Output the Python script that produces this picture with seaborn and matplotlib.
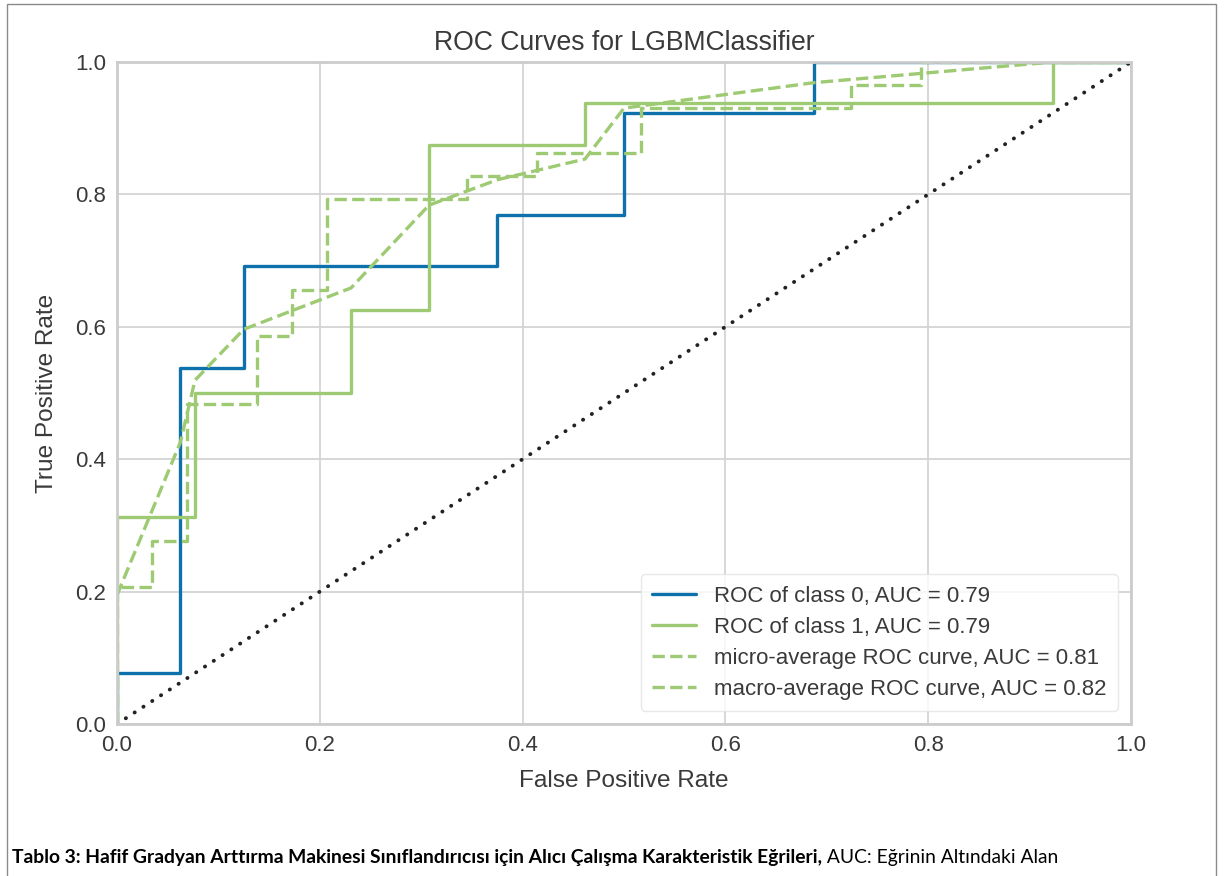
import matplotlib
matplotlib.use("Agg")
import matplotlib.pyplot as plt
import matplotlib.patches as mpatches
import seaborn as sns
import pandas as pd

# ---- data ----
fpr_class0 = [0, 0, 0.0625, 0.0625, 0.125, 0.125, 0.375, 0.375, 0.5, 0.5, 0.6875, 0.6875, 1.0]
tpr_class0 = [0, 0.0769, 0.0769, 0.5385, 0.5385, 0.6923, 0.6923, 0.7692, 0.7692, 0.9231, 0.9231, 1.0, 1.0]

fpr_class1 = [0, 0, 0.0769, 0.0769, 0.2308, 0.2308, 0.3077, 0.3077, 0.4615, 0.4615, 0.9231, 0.9231, 1.0]
tpr_class1 = [0, 0.3125, 0.3125, 0.5, 0.5, 0.625, 0.625, 0.875, 0.875, 0.9375, 0.9375, 1.0, 1.0]

fpr_micro = [0, 0, 0.0345, 0.0345, 0.069, 0.069, 0.1379, 0.1379, 0.1724, 0.1724, 0.2069, 0.2069,
             0.3448, 0.3448, 0.4138, 0.4138, 0.5172, 0.5172, 0.7241, 0.7241, 0.7931, 0.7931, 1.0]
tpr_micro = [0, 0.2069, 0.2069, 0.2759, 0.2759, 0.4828, 0.4828, 0.5862, 0.5862, 0.6552, 0.6552, 0.7931,
             0.7931, 0.8276, 0.8276, 0.8621, 0.8621, 0.931, 0.931, 0.9655, 0.9655, 1.0, 1.0]

fpr_macro = [0, 0.0625, 0.0769, 0.125, 0.2308, 0.3077, 0.375, 0.4615, 0.5, 0.6875, 0.9231, 1.0]
tpr_macro = [0.1947, 0.4255, 0.5192, 0.5962, 0.6587, 0.7837, 0.8221, 0.8534, 0.9303, 0.9688, 1.0, 1.0]

chance_x = [0, 1]
chance_y = [0, 1]

labels = ["ROC of class 0, AUC = 0.79",
          "ROC of class 1, AUC = 0.79",
          "micro-average ROC curve, AUC = 0.81",
          "macro-average ROC curve, AUC = 0.82"]
tick_values = [0.0, 0.2, 0.4, 0.6, 0.8, 1.0]
tick_labels = ["0.0", "0.2", "0.4", "0.6", "0.8", "1.0"]

title = "ROC Curves for LGBMClassifier"
xlabel = "False Positive Rate"
ylabel = "True Positive Rate"
caption_bold = "Tablo 3: Hafif Gradyan Arttırma Makinesi Sınıflandırıcısı için Alıcı Çalışma Karakteristik Eğrileri,"
caption_regular = " AUC: Eğrinin Altındaki Alan"

# ---- style ----
sns.set_style("whitegrid", {"grid.color": "#d4d4d4", "axes.edgecolor": "#cccccc"})
plt.rcParams["font.family"] = ["Liberation Sans", "DejaVu Sans"]

BLUE = "#0f71ab"
GREEN = "#9dca72"
LW = 2.4

fig = plt.figure(figsize=(12.3, 8.76), dpi=100)
ax = fig.add_axes([117 / 1230, 1 - 724 / 876, 1014 / 1230, 662 / 876])

series = [
    (fpr_class0, tpr_class0, BLUE, "-"),
    (fpr_class1, tpr_class1, GREEN, "-"),
    (fpr_micro, tpr_micro, GREEN, "--"),
    (fpr_macro, tpr_macro, GREEN, "--"),
]
for (xs, ys, col, ls), lab in zip(series, labels):
    df = pd.DataFrame({"fpr": xs, "tpr": ys})
    sns.lineplot(data=df, x="fpr", y="tpr", ax=ax, color=col, linestyle=ls,
                 linewidth=LW, estimator=None, sort=False, label=lab)

sns.lineplot(x=chance_x, y=chance_y, ax=ax, color="#222222", linestyle=(0, (0.05, 2.65)),
             linewidth=2.8, estimator=None, sort=False, dash_capstyle="round")

ax.set_xlim(0, 1)
ax.set_ylim(0, 1)
ax.set_xticks(tick_values)
ax.set_xticklabels(tick_labels)
ax.set_yticks(tick_values)
ax.set_yticklabels(tick_labels)
ax.tick_params(axis="both", labelsize=16, colors="#3a3a3a", length=0, pad=8)
ax.grid(True, color="#d4d4d4", linewidth=1.3)
for sp in ax.spines.values():
    sp.set_linewidth(2.0)
    sp.set_color("#cccccc")

ax.set_title(title, fontsize=19.2, color="#3a3a3a", pad=9)
ax.set_xlabel(xlabel, fontsize=17.6, color="#3a3a3a", labelpad=10)
ax.set_ylabel(ylabel, fontsize=17.6, color="#3a3a3a", labelpad=12)

leg = ax.legend(loc="lower right", fontsize=16, frameon=True, framealpha=0.8,
                edgecolor="#e3e3e3", fancybox=True, borderaxespad=0.6,
                handlelength=2.0, labelspacing=0.45, borderpad=0.5)
for t in leg.get_texts():
    t.set_color("#3a3a3a")

# ---- page frame and caption ----
frame = mpatches.Rectangle((7 / 1230, -0.01), (1216 - 7) / 1230, (876 - 4) / 876 + 0.01,
                           transform=fig.transFigure, fill=False, edgecolor="#8a8a8a",
                           linewidth=1.0, clip_on=False)
fig.add_artist(frame)

cap_y = 1 - 857 / 876
fs = 13.0
t1 = fig.text(12 / 1230, cap_y, caption_bold, fontsize=fs, fontweight="bold",
              family=["Lato", "DejaVu Sans"], color="black", va="center", ha="left")
t2 = fig.text(0, cap_y, caption_regular, fontsize=fs, family=["Lato", "DejaVu Sans"],
              color="black", va="center", ha="left")
fig.canvas.draw()
r = fig.canvas.get_renderer()
w1 = t1.get_window_extent(r).width
w2 = t2.get_window_extent(r).width
target = 1056 - 12
scale = target / (w1 + w2)
t1.set_fontsize(fs * scale)
t2.set_fontsize(fs * scale)
fig.canvas.draw()
e1 = t1.get_window_extent(r)
t2.set_x(e1.x1 / 1230)

fig.savefig("out.png", dpi=100)
